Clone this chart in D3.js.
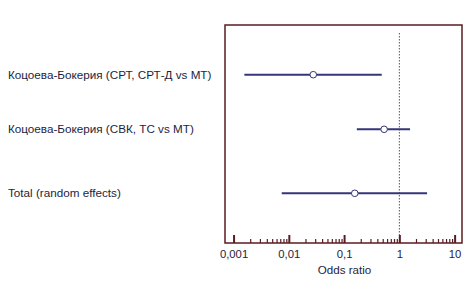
<!DOCTYPE html>
<html><head><meta charset="utf-8">
<script src="https://cdn.jsdelivr.net/npm/d3@7"></script>
<style>body{margin:0;background:#fff}</style>
</head><body>
<svg id="c" width="475" height="284"></svg>
<script>
const studies = ["Коцоева-Бокерия (СРТ, СРТ-Д vs МТ)", "Коцоева-Бокерия (СВК, ТС vs МТ)", "Total (random effects)"];
const estimates = [0.0277, 0.53, 0.156];
const lower = [0.00157, 0.17, 0.00744];
const upper = [0.48, 1.56, 3.17];
const tickValues = [0.001, 0.01, 0.1, 1, 10];
const tickLabels = ["0,001", "0,01", "0,1", "1", "10"];
const xTitle = "Odds ratio";

const svg = d3.select("#c");
const L = 225, R = 462, T = 25, B = 243;
const x = d3.scaleLog().domain([0.0007, 13.6]).range([L, R]);
const y = d3.scaleOrdinal().domain(studies).range([74.7, 129.3, 193.3]);
const font = "Arial, 'Liberation Sans', sans-serif";
const lineCol = "#35357a", boxCol = "#5a1c22";

// reference line at 1
svg.append("line").attr("x1", x(1)).attr("x2", x(1)).attr("y1", 33).attr("y2", B)
  .attr("stroke", "#555").attr("stroke-width", 1).attr("stroke-dasharray", "1.5,1.5");

// minor ticks
const minor = [];
for (let e = -3; e <= 1; e++) for (let k = 1; k <= 9; k++) {
  const v = k * Math.pow(10, e);
  if (v >= 0.001 && v <= 10) minor.push(v);
}
const axis = d3.axisTop(x).tickValues(minor).tickSize(0).tickFormat("");
const ag = svg.append("g").attr("transform", `translate(0,${B})`).call(axis);
ag.select(".domain").remove();
ag.selectAll(".tick line").remove();
ag.selectAll(".tick").append("line")
  .attr("y1", 0).attr("y2", d => tickValues.includes(d) ? -8 : -4)
  .attr("stroke", boxCol).attr("stroke-width", d => tickValues.includes(d) ? 2 : 1.2);

// labels
const lab = d3.axisBottom(x).tickValues(tickValues).tickSize(0).tickFormat((d, i) => tickLabels[i]);
const lg = svg.append("g").attr("transform", `translate(0,${B + 4})`).call(lab);
lg.select(".domain").remove();
lg.selectAll("text").attr("font-family", font).attr("font-size", 11.3).attr("fill", "#1e1e3c");

svg.append("text").attr("x", (L + R) / 2 + 1).attr("y", 274).attr("text-anchor", "middle")
  .attr("font-family", font).attr("font-size", 11.6).attr("fill", "#1e1e3c").text(xTitle);

// box
svg.append("rect").attr("x", L).attr("y", T).attr("width", R - L).attr("height", B - T)
  .attr("fill", "none").attr("stroke", boxCol).attr("stroke-width", 1.5);

// study labels
svg.selectAll(".lbl").data(studies).join("text")
  .attr("x", 8).attr("y", d => y(d)).attr("dy", "0.35em")
  .attr("font-family", font).attr("font-size", 11.7).attr("fill", "#1e1e3c").text(d => d);

// CIs
svg.selectAll(".ci").data(studies).join("line")
  .attr("x1", (d, i) => x(lower[i])).attr("x2", (d, i) => x(upper[i]))
  .attr("y1", d => y(d)).attr("y2", d => y(d))
  .attr("stroke", lineCol).attr("stroke-width", 2);
svg.selectAll(".pt").data(studies).join("circle")
  .attr("cx", (d, i) => x(estimates[i])).attr("cy", d => y(d)).attr("r", 3.3)
  .attr("fill", "#fff").attr("stroke", lineCol).attr("stroke-width", 1);
</script>
</body></html>
